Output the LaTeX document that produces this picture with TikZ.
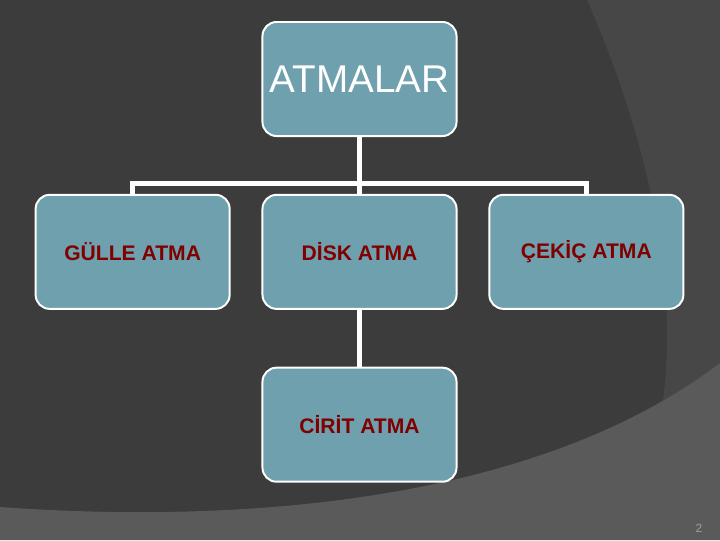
\documentclass[tikz,border=0pt]{standalone}
\usepackage{fontspec}
\setmainfont{Liberation Sans}
\usetikzlibrary{positioning}
\definecolor{zeminkoyu}{HTML}{3C3C3C}
\definecolor{zeminorta}{HTML}{474747}
\definecolor{zeminacik}{HTML}{5A5A5A}
\definecolor{kutumavi}{HTML}{6FA0AE}
\definecolor{yazikirmizi}{HTML}{800000}

\begin{document}
\begin{tikzpicture}[x=0.025cm,y=-0.025cm,node distance=4.32cm and 5.67cm,on grid,
	kutu/.style={draw=white,line width=1.4pt,fill=kutumavi,rounded corners=10pt,
		minimum width=4.85cm,minimum height=2.85cm,inner sep=0pt},
	alt/.style={kutu,font=\bfseries\fontsize{15}{18}\selectfont,text=yazikirmizi},
	hat/.style={draw=white,line width=3.5pt}]
			% arka plan
			\fill[zeminkoyu] (0,0) rectangle (720,540);
			\fill[zeminorta] (587,0) .. controls (640,120) and (685,280) .. (660,420) -- (720,540) -- (720,0) -- cycle;
			\fill[zeminacik] (0,507) .. controls (250,525) and (540,500) .. (720,363) -- (720,540) -- (0,540) -- cycle;
			\useasboundingbox (0,0) rectangle (720,540);

			\node[kutu,font=\fontsize{27.5}{32}\selectfont,text=white] (atmalar) at (359.5,79) {ATMALAR};
			\node[alt] (disk) [below=of atmalar]	{DİSK ATMA};
			\node[alt] (gulle) [left=of disk]		{GÜLLE ATMA};
			\node[alt] (cekic) [right=of disk]		{ÇEKİÇ ATMA};
			\node[alt] (cirit) [below=of disk]		{CİRİT ATMA};

			\draw[hat] (atmalar) -- (disk);
			\draw[hat] (gulle.north) -- ++(0pt,7.5pt) -| (cekic.north);
			\draw[hat] (disk) -- (cirit);

			\node[text=gray!75,font=\fontsize{8.5}{10}\selectfont] (sayfa) at (699,528) {2};
	\end{tikzpicture}
\end{document}
